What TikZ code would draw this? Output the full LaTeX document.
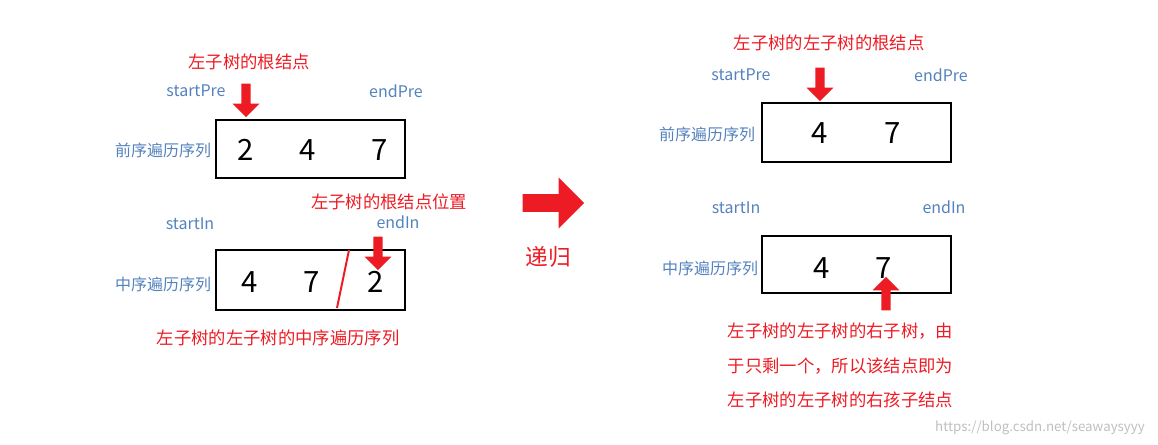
\documentclass[tikz,border=0pt]{standalone}
\usepackage{fontspec}
\setmainfont{Noto Sans CJK SC}
\usetikzlibrary{shapes.arrows}
\definecolor{lblue}{RGB}{84,130,190}
\definecolor{ared}{RGB}{237,28,36}
\begin{document}
\begin{tikzpicture}[x=0.75pt,y=-0.75pt,
seqbox/.style={draw=black, line width=2pt},
num/.style={font=\fontsize{22}{24}\selectfont},
tag/.style={text=lblue, font=\fontsize{12}{14}\selectfont},
note/.style={text=ared, font=\fontsize{13}{16}\selectfont},
downarrow/.style={single arrow, fill=ared, draw=none, minimum height=25pt, minimum width=20pt, single arrow head extend=4pt, inner sep=2pt, shape border rotate=270},
]
\useasboundingbox (0,0) rectangle (1158,444);
%Left part
\draw[seqbox] (216,120) rectangle (405,178);
\node[num] (a2) at (246,150) {2};
\node[num] (a4) at (308,150) {4};
\node[num] (a7) at (380,150) {7};
\node[tag] (pre1) at (163,150) {前序遍历序列};
\node[tag] (sp1) at (196,91) {startPre};
\node[tag] (ep1) at (396,91) {endPre};
\node[downarrow] (arr1) at (246,98) {};
\node[note] (n1) at (249,62) {左子树的根结点};

\draw[seqbox] (216,250) rectangle (405,310);
\node[num] (b4) at (250,282) {4};
\node[num] (b7) at (312,282) {7};
\node[num] (b2) at (376,282) {2};
\draw[ared, line width=1.5pt] (349,250) -- (337,308);
\node[tag] (in1) at (163,284) {中序遍历序列};
\node[tag] (si1) at (190,224) {startIn};
\node[tag] (ei1) at (398,222) {endIn};
\node[downarrow] (arr2) at (378,251) {};
\node[note] (n2) at (389,202) {左子树的根结点位置};
\node[note] (n3) at (278,338) {左子树的左子树的中序遍历序列};

%Middle
\node[single arrow, fill=ared, draw=none, minimum height=46pt, minimum width=38pt, single arrow head extend=6pt, inner sep=3pt] (big) at (549,203) {};
\node[text=ared, font=\fontsize{17}{20}\selectfont] (rec) at (548,257) {递归};

%Right part
\draw[seqbox] (762,103) rectangle (951,162);
\node[num] (c4) at (820,133) {4};
\node[num] (c7) at (893,133) {7};
\node[tag] (pre2) at (707,134) {前序遍历序列};
\node[tag] (sp2) at (741,75) {startPre};
\node[tag] (ep2) at (941,75) {endPre};
\node[downarrow] (arr3) at (820,82) {};
\node[note] (n4) at (829,43) {左子树的左子树的根结点};

\draw[seqbox] (762,236) rectangle (951,293);
\node[num] (d4) at (822,268) {4};
\node[num] (d7) at (884,268) {7};
\node[tag] (in2) at (710,268) {中序遍历序列};
\node[tag] (si2) at (736,208) {startIn};
\node[tag] (ei2) at (944,207) {endIn};
\node[downarrow, shape border rotate=90] (arr4) at (886,296) {};
\node[note, align=left, anchor=north west, font=\fontsize{13}{26}\selectfont] (n5) at (723,318) {左子树的左子树的右子树，由\\于只剩一个，所以该结点即为\\左子树的左子树的右孩子结点};
\node[text=gray!50, font=\fontsize{10}{12}\selectfont] (wm) at (1040,428) {https://blog.csdn.net/seawaysyyy};
\end{tikzpicture}
\end{document}
